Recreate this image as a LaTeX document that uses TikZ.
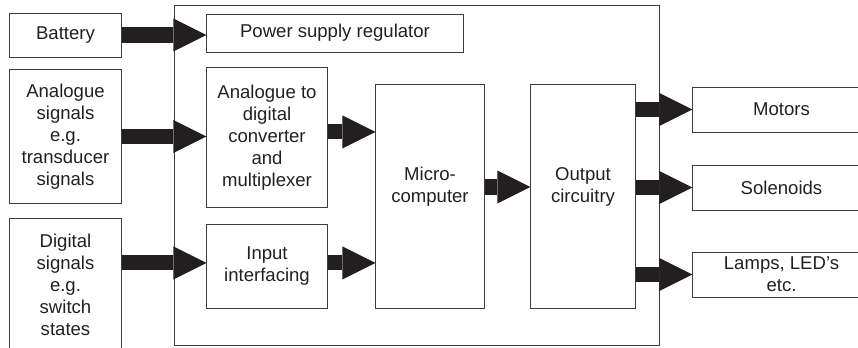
\documentclass[tikz,border=0pt]{standalone}
\usepackage{fontspec}
\setmainfont{Liberation Sans}
\usetikzlibrary{arrows.meta,calc,positioning}
\definecolor{inkdark}{HTML}{231F20}
\definecolor{boxline}{HTML}{3C3C3C}

\begin{document}
\begin{tikzpicture}[x=0.025cm,y=-0.025cm,
    blk/.style={draw=boxline,line width=0.7pt,align=center,inner sep=0pt,text=inkdark,
                font=\fontsize{13.2}{15.6}\selectfont},
    txt/.style={align=center,inner sep=0pt,text=inkdark,font=\fontsize{13.2}{15.6}\selectfont},
    fatarrow/.style={draw=inkdark,line width=0.375cm,
                     -{Triangle[length=0.83cm,width=0.83cm,line width=0pt]}}]
    \useasboundingbox (0,0) rectangle (858,348);

    % ECU frame
    \draw[boxline,line width=0.7pt] (174,5) rectangle (659,345);

    % Inputs
    \node[blk,minimum width=2.775cm,minimum height=1.1cm] (bat) at (65.5,35) {Battery};
    \node[blk,minimum width=2.775cm,minimum height=3.325cm] (ana) at (65.5,136.5)
        {Analogue\\signals\\e.g.\\transducer\\signals};
    \node[blk,minimum width=2.775cm,minimum height=3.275cm] (dig) at (65.5,284.5)
        {Digital\\signals\\e.g.\\switch\\states};

    % Inside the ECU
    \node[blk,minimum width=6.4cm,minimum height=0.95cm] (psu) at (335,33) {Power supply regulator};
    \node[blk,minimum width=3cm,minimum height=3.475cm] (adc) at (267,137.5)
        {Analogue to\\digital\\converter\\and\\multiplexer};
    \node[blk,minimum width=3cm,minimum height=2.075cm] (inp) at (267,266.5) {Input\\interfacing};
    \node[blk,minimum width=2.7cm,minimum height=5.575cm] (mc) at (430,196.5) {};
    \node[txt] (mctxt) at (430,187) {Micro-\\computer};
    \node[blk,minimum width=2.6cm,minimum height=5.575cm] (out) at (583,196.5) {};
    \node[txt] (outtxt) at (583,187) {Output\\circuitry};

    % Outputs
    \node[blk,minimum width=4.425cm,minimum height=1.125cm] (mot) at (781.5,109.5) {Motors};
    \node[blk,minimum width=4.425cm,minimum height=1.125cm] (sol) at (781.5,187.5) {Solenoids};
    \node[blk,minimum width=4.425cm,minimum height=1.125cm] (lamp) at (781.5,274.5)
        {Lamps, LED’s\\etc.};

    % Fat arrows
    \draw[fatarrow] (bat.east) -- (bat.east -| psu.west);
    \draw[fatarrow] (ana.east) -- (ana.east -| adc.west);
    \draw[fatarrow] ([yshift=0.09cm]inp.west -| dig.east) -- ([yshift=0.09cm]inp.west);
    \draw[fatarrow] ([yshift=0.14cm]adc.east) -- ([yshift=0.14cm]adc.east -| mc.west);
    \draw[fatarrow] ([yshift=0.09cm]inp.east) -- ([yshift=0.09cm]inp.east -| mc.west);
    \draw[fatarrow] (mc.east |- mctxt) -- (out.west |- mctxt);
    \foreach \n in {mot,sol,lamp} {
        \draw[fatarrow] (out.east |- \n.west) -- (\n.west);
    }
\end{tikzpicture}
\end{document}
